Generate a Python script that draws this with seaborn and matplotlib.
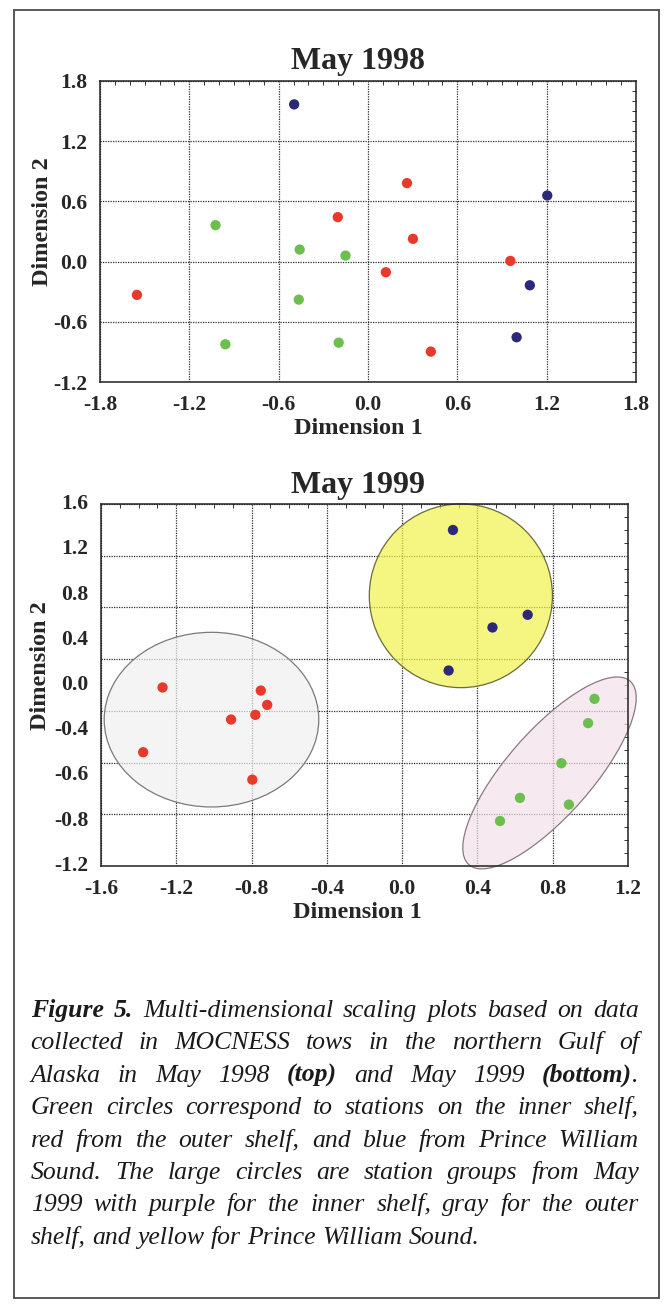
import numpy as np
import pandas as pd
import seaborn as sns
import matplotlib
matplotlib.use("Agg")
import matplotlib.pyplot as plt
from matplotlib.patches import Ellipse, Rectangle
from matplotlib.transforms import Affine2D, blended_transform_factory
from matplotlib.ticker import MultipleLocator

# --- May 1998 stations (Dimension 1, Dimension 2) ---
inner98_d1 = [-1.024, -0.459, -0.151, -0.465, -0.958, -0.197]
inner98_d2 = [0.363, 0.120, 0.060, -0.379, -0.824, -0.808]
outer98_d1 = [0.262, -0.203, 0.302, 0.120, 0.956, -1.552, 0.422]
outer98_d2 = [0.782, 0.443, 0.227, -0.106, 0.007, -0.332, -0.897]
pws98_d1 = [-0.496, 1.204, 1.087, 0.998]
pws98_d2 = [1.567, 0.659, -0.236, -0.754]

# --- May 1999 stations ---
inner99_d1 = [1.022, 0.988, 0.846, 0.626, 0.886, 0.520]
inner99_d2 = [0.093, -0.095, -0.405, -0.673, -0.725, -0.852]
outer99_d1 = [-1.273, -0.751, -0.717, -0.780, -0.909, -1.376, -0.796]
outer99_d2 = [0.181, 0.157, 0.046, -0.031, -0.067, -0.320, -0.532]
pws99_d1 = [0.270, 0.667, 0.480, 0.247]
pws99_d2 = [1.399, 0.743, 0.645, 0.312]

# station groups of May 1999 (centre, width, height, angle)
pws99_group = (0.312, 0.890, 0.973, 1.421)
outer99_group = (-1.013, -0.068, 1.140, 1.351)
inner99_group = (0.783, -0.480, 1.298, 0.452, 48.7)  # sizes in Dimension 1 units

# ticks
ticks98 = [-1.8, -1.2, -0.6, 0.0, 0.6, 1.2, 1.8]
yticks98 = [-1.2, -0.6, 0.0, 0.6, 1.2, 1.8]
xticks99 = [-1.6, -1.2, -0.8, -0.4, 0.0, 0.4, 0.8, 1.2]
ygrid99 = [-1.2, -0.8, -0.4, 0.0, 0.4, 0.8, 1.2, 1.6]
ylabels99 = ["1.6", "1.2", "0.8", "0.4", "0.0", "-0.4", "-0.6", "-0.8", "-1.2"]

zone_colors = {"inner": "#6cbf4f", "outer": "#e8392b", "pws": "#2c2a78"}

caption_lines = [
    "Figure 5. Multi-dimensional scaling plots based on data",
    "collected in MOCNESS tows in the northern Gulf of",
    "Alaska in May 1998 (top) and May 1999 (bottom).",
    "Green circles correspond to stations on the inner shelf,",
    "red from the outer shelf, and blue from Prince William",
    "Sound. The large circles are station groups from May",
    "1999 with purple for the inner shelf, gray for the outer",
    "shelf, and yellow for Prince William Sound.",
]
bold_words = {"Figure", "5.", "(top)", "(bottom)"}


def make_df(i1, i2, o1, o2, p1, p2):
    return pd.DataFrame({
        "dim1": i1 + o1 + p1,
        "dim2": i2 + o2 + p2,
        "zone": ["inner"] * len(i1) + ["outer"] * len(o1) + ["pws"] * len(p1),
    })


df98 = make_df(inner98_d1, inner98_d2, outer98_d1, outer98_d2, pws98_d1, pws98_d2)
df99 = make_df(inner99_d1, inner99_d2, outer99_d1, outer99_d2, pws99_d1, pws99_d2)

sns.set_style("white")
plt.rcParams["font.family"] = ["Liberation Serif", "DejaVu Serif"]
plt.rcParams["axes.unicode_minus"] = False

W, H = 666, 1307
fig = plt.figure(figsize=(W / 100, H / 100), dpi=100)


def axes_px(l, t, r, b):
    return fig.add_axes([l / W, 1 - b / H, (r - l) / W, (b - t) / H])


def ftext(x, y, s, **kw):
    return fig.text(x / W, 1 - y / H, s, **kw)


def style(ax, xticks, yticks, xlim, ylim, ylabels=True):
    ax.set_xlim(xlim)
    ax.set_ylim(ylim)
    ax.set_xticks(xticks)
    ax.set_xticklabels([f"{v:.1f}" for v in xticks])
    ax.set_yticks(yticks)
    ax.set_yticklabels([f"{v:.1f}" for v in yticks])
    ax.xaxis.set_minor_locator(MultipleLocator(0.1))
    ax.yaxis.set_minor_locator(MultipleLocator(0.1))
    ax.grid(True, which="major", color="#2a2a2a", linestyle=(0, (1, 1)), linewidth=0.9)
    ax.tick_params(which="both", direction="in", top=True, right=True, color="#333333")
    ax.tick_params(which="major", length=0, labelsize=15.5, pad=9, labelleft=ylabels)
    ax.tick_params(which="minor", length=3, width=0.7)
    for lab in ax.get_xticklabels() + ax.get_yticklabels():
        lab.set_fontweight("bold")
    for sp in ax.spines.values():
        sp.set_color("#222222")
        sp.set_linewidth(1.1)
    ax.set_xlabel("")
    ax.set_ylabel("")


# ---------------- top: May 1998 ----------------
ax1 = axes_px(100, 81, 636, 382)
sns.scatterplot(data=df98, x="dim1", y="dim2", hue="zone", palette=zone_colors,
                s=55, linewidth=0, legend=False, ax=ax1, zorder=4)
style(ax1, ticks98, yticks98, (-1.8, 1.8), (-1.2, 1.8))

ftext(358, 61, "May 1998", ha="center", va="center", fontsize=23, fontweight="bold")
ftext(358, 429, "Dimension 1", ha="center", va="center", fontsize=17.5, fontweight="bold")
ftext(43, 222, "Dimension 2", ha="center", va="center", rotation=90, fontsize=17.5, fontweight="bold")

# ---------------- bottom: May 1999 ----------------
ax2 = axes_px(101, 504, 628, 866)
sns.scatterplot(data=df99, x="dim1", y="dim2", hue="zone", palette=zone_colors,
                s=55, linewidth=0, legend=False, ax=ax2, zorder=4)
style(ax2, xticks99, ygrid99, (-1.6, 1.2), (-1.2, 1.6), ylabels=False)

# the printed labels on this axis are spaced evenly along the frame
trans = blended_transform_factory(ax2.transAxes, ax2.transData)
for lab, yv in zip(ylabels99, np.linspace(1.6, -1.2, len(ylabels99))):
    ax2.text(-0.024, yv, lab, transform=trans, ha="right", va="center",
             fontsize=15.5, fontweight="bold")

cx, cy, w, h = pws99_group
ax2.add_patch(Ellipse((cx, cy), w, h, facecolor=(0.95, 0.95, 0.30, 0.7),
                      edgecolor="#6b6b3c", linewidth=0.9, zorder=2, clip_on=False))
cx, cy, w, h = outer99_group
ax2.add_patch(Ellipse((cx, cy), w, h, facecolor=(0.94, 0.94, 0.94, 0.7),
                      edgecolor="#7a7a7a", linewidth=0.9, zorder=2, clip_on=False))

# tilted ellipse: drawn in Dimension-1 units, then stretched to the y scale
pos = ax2.get_position()
sx = pos.width * W / 2.8
sy = pos.height * H / 2.8
cx, cy, w, h, ang = inner99_group
tilt = Affine2D().scale(1, sx / sy).translate(cx, cy) + ax2.transData
ax2.add_patch(Ellipse((0, 0), w, h, angle=ang, transform=tilt,
                      facecolor=(0.96, 0.88, 0.92, 0.7), edgecolor="#8a7885",
                      linewidth=0.9, zorder=2, clip_on=False))

ftext(358, 485, "May 1999", ha="center", va="center", fontsize=23, fontweight="bold")
ftext(357, 913, "Dimension 1", ha="center", va="center", fontsize=17.5, fontweight="bold")
ftext(41, 666, "Dimension 2", ha="center", va="center", rotation=90, fontsize=17.5, fontweight="bold")

# ---------------- caption (justified) ----------------
fig.canvas.draw()
renderer = fig.canvas.get_renderer()
cap_left, cap_right = 30.6, 638.8
cap_size = 18.5
space_px = cap_size * 100 / 72 * 0.25

for i, line in enumerate(caption_lines):
    base = 1017 + 32.4 * i
    words = []
    for wd in line.split(" "):
        if wd in bold_words:
            segs = [(wd, True)]
        elif wd.rstrip(".") in bold_words:
            segs = [(wd.rstrip("."), True), (".", False)]
        else:
            segs = [(wd, False)]
        texts, width = [], 0.0
        for seg, bold in segs:
            t = ftext(0, base, seg, fontsize=cap_size, style="italic",
                      fontweight="bold" if bold else "normal", ha="left",
                      va="baseline", color="#1a1a1a")
            texts.append((t, width))
            width += t.get_window_extent(renderer).width
        words.append((texts, width))
    total = sum(wv for _, wv in words)
    if i == len(caption_lines) - 1:
        gap = space_px
    else:
        gap = (cap_right - cap_left - total) / (len(words) - 1)
    x = cap_left
    for texts, width in words:
        for t, off in texts:
            t.set_position(((x + off) / W, 1 - base / H))
        x += width + gap

# outer frame
fig.add_artist(Rectangle((14 / W, 1 - 1298 / H), (659 - 14) / W, (1298 - 9.5) / H,
                         transform=fig.transFigure, fill=False,
                         edgecolor="#4a4a4a", linewidth=1.3))

fig.savefig("out.png", dpi=100)
